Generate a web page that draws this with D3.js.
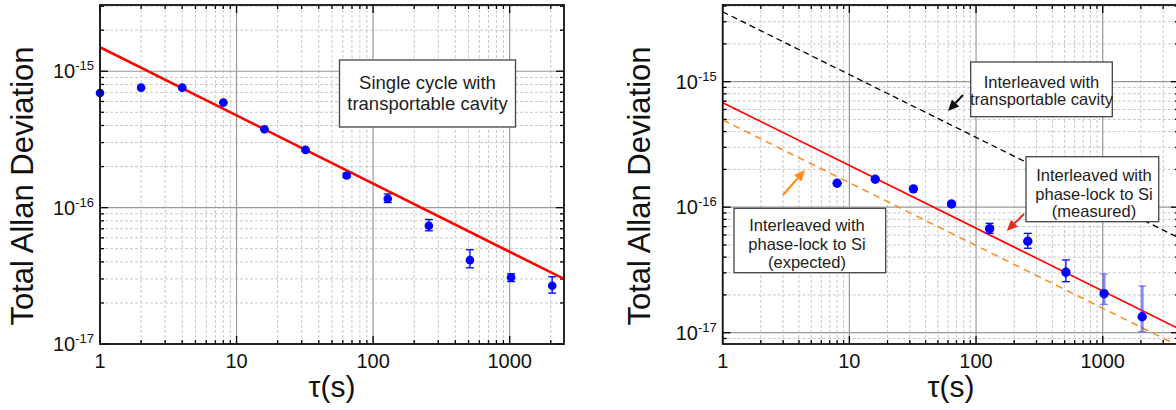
<!DOCTYPE html>
<html><head><meta charset="utf-8">
<script src="https://cdn.jsdelivr.net/npm/d3@7"></script>
<style>
html,body{margin:0;padding:0;background:#fff;overflow:hidden}
text{font-family:"Liberation Sans",Arial,sans-serif}
</style></head>
<body>
<script>
// ---------- data ----------
const tauLeft = [1, 2, 4, 8, 16, 32, 64, 128, 256, 512, 1024, 2048];
const adevLeft = [6.93e-16, 7.58e-16, 7.58e-16, 5.89e-16, 3.76e-16, 2.65e-16, 1.72e-16, 1.16e-16, 7.36e-17, 4.12e-17, 3.08e-17, 2.67e-17];
const hiLeft  = [7.0e-16, 7.65e-16, 7.65e-16, 5.95e-16, 3.80e-16, 2.70e-16, 1.78e-16, 1.26e-16, 8.18e-17, 4.91e-17, 3.27e-17, 3.11e-17];
const loLeft  = [6.86e-16, 7.5e-16, 7.5e-16, 5.83e-16, 3.72e-16, 2.60e-16, 1.66e-16, 1.09e-16, 6.76e-17, 3.62e-17, 2.87e-17, 2.36e-17];
const fitTauLeft = [1, 2500];
const fitLeft = [1.5e-15, 3.0e-17];

const tauRight = [8, 16, 32, 64, 128, 256, 512, 1024, 2048];
const adevRight = [1.55e-16, 1.67e-16, 1.40e-16, 1.06e-16, 6.74e-17, 5.35e-17, 3.03e-17, 2.05e-17, 1.34e-17];
const hiRight  = [1.57e-16, 1.69e-16, 1.42e-16, 1.09e-16, 7.44e-17, 6.19e-17, 3.80e-17, 2.94e-17, 2.36e-17];
const loRight  = [1.53e-16, 1.65e-16, 1.38e-16, 1.03e-16, 6.19e-17, 4.71e-17, 2.55e-17, 1.68e-17, 1.02e-17];
const fitTauRight = [1, 4000];
const measuredRight = [6.8e-16, 1.075e-17];
const expectedRight = [4.95e-16, 7.83e-18];
const transportRight = [3.6e-15, 5.69e-17];

const xTickLabels = ["1", "10", "100", "1000"];
const xTickValues = [1, 10, 100, 1000];
const yTickValues = [1e-17, 1e-16, 1e-15];
const yTickExp = ["-17", "-16", "-15"];

const noteLeft = ["Single cycle with", "transportable cavity"];
const noteTransport = ["Interleaved with", "transportable cavity"];
const noteMeasured = ["Interleaved with", "phase-lock to Si", "(measured)"];
const noteExpected = ["Interleaved with", "phase-lock to Si", "(expected)"];

// ---------- drawing ----------
const svg = d3.select("body").append("svg").attr("width", 1176).attr("height", 410);
const defs = svg.append("defs");

function panel(cfg) {
  const x = d3.scaleLog().domain(cfg.xd).range([cfg.x0, cfg.x1]);
  const y = d3.scaleLog().domain(cfg.yd).range([cfg.y1, cfg.y0]);
  const g = svg.append("g");
  defs.append("clipPath").attr("id", cfg.id).append("rect")
    .attr("x", cfg.x0).attr("y", cfg.y0).attr("width", cfg.x1 - cfg.x0).attr("height", cfg.y1 - cfg.y0);

  const xt = x.ticks(40).filter(v => v >= cfg.xd[0] && v <= cfg.xd[1]);
  const yt = y.ticks(40).filter(v => v >= cfg.yd[0] && v <= cfg.yd[1]);
  const isMajor = v => Math.abs(Math.log10(v) - Math.round(Math.log10(v))) < 1e-6;

  const grid = g.append("g");
  grid.selectAll(".xm").data(xt.filter(v => !isMajor(v))).join("line")
    .attr("x1", d => x(d)).attr("x2", d => x(d)).attr("y1", cfg.y0).attr("y2", cfg.y1)
    .attr("stroke", "#c8c8c8").attr("stroke-width", 1).attr("stroke-dasharray", "3,2");
  grid.selectAll(".ym").data(yt.filter(v => !isMajor(v))).join("line")
    .attr("y1", d => y(d)).attr("y2", d => y(d)).attr("x1", cfg.x0).attr("x2", cfg.x1)
    .attr("stroke", "#c8c8c8").attr("stroke-width", 1).attr("stroke-dasharray", "3,2");
  grid.selectAll(".xM").data(xt.filter(isMajor)).join("line")
    .attr("x1", d => x(d)).attr("x2", d => x(d)).attr("y1", cfg.y0).attr("y2", cfg.y1)
    .attr("stroke", "#999").attr("stroke-width", 1.2);
  grid.selectAll(".yM").data(yt.filter(isMajor)).join("line")
    .attr("y1", d => y(d)).attr("y2", d => y(d)).attr("x1", cfg.x0).attr("x2", cfg.x1)
    .attr("stroke", "#999").attr("stroke-width", 1.2);

  const tk = g.append("g").attr("stroke", "#000").attr("stroke-width", 1.3);
  xt.forEach(v => {
    const L = isMajor(v) ? 8 : 4;
    tk.append("line").attr("x1", x(v)).attr("x2", x(v)).attr("y1", cfg.y1).attr("y2", cfg.y1 - L);
    tk.append("line").attr("x1", x(v)).attr("x2", x(v)).attr("y1", cfg.y0).attr("y2", cfg.y0 + L);
  });
  yt.forEach(v => {
    const L = isMajor(v) ? 8 : 4;
    tk.append("line").attr("y1", y(v)).attr("y2", y(v)).attr("x1", cfg.x0).attr("x2", cfg.x0 + L);
    tk.append("line").attr("y1", y(v)).attr("y2", y(v)).attr("x1", cfg.x1).attr("x2", cfg.x1 - L);
  });

  xTickValues.forEach((v, i) => {
    g.append("text").attr("x", x(v)).attr("y", cfg.y1 + 24).attr("text-anchor", "middle")
      .attr("font-size", 20).attr("fill", "#111").text(xTickLabels[i]);
  });
  yTickValues.forEach((v, i) => {
    const t = g.append("text").attr("x", cfg.x0 - 6).attr("y", y(v) + 7).attr("text-anchor", "end")
      .attr("font-size", 20).attr("fill", "#111");
    t.append("tspan").text("10");
    t.append("tspan").attr("font-size", 13).attr("dy", -8).text(yTickExp[i]);
  });

  g.append("text").attr("transform", `translate(${cfg.titleX},${186}) rotate(-90)`)
    .attr("text-anchor", "middle").attr("font-size", 31).attr("fill", "#111").text("Total Allan Deviation");
  g.append("text").attr("x", cfg.xLabelX).attr("y", 397).attr("text-anchor", "middle")
    .attr("font-size", 30).attr("fill", "#111").text("τ(s)");

  const plot = g.append("g").attr("clip-path", `url(#${cfg.id})`);
  return {x, y, g, plot};
}

function fitLine(p, taus, vals, color, width, dash) {
  const line = d3.line().x(d => p.x(d[0])).y(d => p.y(d[1]));
  p.plot.append("path").datum(taus.map((t, i) => [t, vals[i]])).attr("d", line)
    .attr("fill", "none").attr("stroke", color).attr("stroke-width", width)
    .attr("stroke-dasharray", dash || null);
}

function points(p, taus, vals, lo, hi, r, errColorFn) {
  const gg = p.g.append("g");
  taus.forEach((t, i) => {
    const cx = p.x(t), c = errColorFn(i);
    gg.append("line").attr("x1", cx).attr("x2", cx).attr("y1", p.y(lo[i])).attr("y2", p.y(hi[i]))
      .attr("stroke", c.col).attr("stroke-width", c.w);
    [lo[i], hi[i]].forEach(v => gg.append("line").attr("x1", cx - 4).attr("x2", cx + 4)
      .attr("y1", p.y(v)).attr("y2", p.y(v)).attr("stroke", c.col).attr("stroke-width", 1.3));
  });
  gg.selectAll("circle").data(taus).join("circle")
    .attr("cx", d => p.x(d)).attr("cy", (d, i) => p.y(vals[i])).attr("r", r).attr("fill", "#0000ff");
}

function frame(cfg) {
  svg.append("rect").attr("x", cfg.x0).attr("y", cfg.y0).attr("width", cfg.x1 - cfg.x0).attr("height", cfg.y1 - cfg.y0)
    .attr("fill", "none").attr("stroke", "#111").attr("stroke-width", 1.8);
}

function note(lines, x0, y0, w, h, lineYs, cx, fs) {
  const g = svg.append("g");
  g.append("rect").attr("x", x0).attr("y", y0).attr("width", w).attr("height", h)
    .attr("fill", "#fff").attr("stroke", "#444").attr("stroke-width", 1.3);
  lines.forEach((s, i) => g.append("text").attr("x", cx).attr("y", lineYs[i]).attr("text-anchor", "middle")
    .attr("font-size", fs).attr("fill", "#222").text(s));
}

function arrow(x1, y1, x2, y2, color) {
  const a = Math.atan2(y2 - y1, x2 - x1), L = 11, W = 5;
  const bx = x2 - L * Math.cos(a), by = y2 - L * Math.sin(a);
  svg.append("line").attr("x1", x1).attr("y1", y1).attr("x2", bx).attr("y2", by)
    .attr("stroke", color).attr("stroke-width", 2);
  svg.append("path").attr("d", `M${x2},${y2} L${bx - W * Math.sin(a)},${by + W * Math.cos(a)} L${bx + W * Math.sin(a)},${by - W * Math.cos(a)} Z`)
    .attr("fill", color);
}

// Left panel
const cfgL = {id: "clipL", x0: 100, x1: 564, y0: 5, y1: 344, xd: [1, 2500], yd: [1e-17, 3.06e-15], titleX: 33, xLabelX: 332};
const pL = panel(cfgL);
fitLine(pL, fitTauLeft, fitLeft, "#ff0000", 2.6);
points(pL, tauLeft, adevLeft, loLeft, hiLeft, 4.3, () => ({col: "#0000ff", w: 1.3}));
frame(cfgL);
note(noteLeft, 339.5, 60, 176, 67, [89, 110], 427.5, 18.5);

// Right panel
const cfgR = {id: "clipR", x0: 722.7, x1: 1179, y0: 5, y1: 344, xd: [1, 4000], yd: [8.13e-18, 4.08e-15], titleX: 650, xLabelX: 951};
const pR = panel(cfgR);
fitLine(pR, fitTauRight, transportRight, "#000", 1.3, "6,4");
fitLine(pR, fitTauRight, expectedRight, "#ff8c1a", 1.5, "7,5");
fitLine(pR, fitTauRight, measuredRight, "#ff0000", 1.6);
points(pR, tauRight, adevRight, loRight, hiRight, 4.7,
  i => i >= 7 ? {col: "rgba(60,60,255,0.6)", w: 3} : {col: "#0000ff", w: 1.3});
frame(cfgR);
note(noteTransport, 970.7, 62, 141.6, 54.7, [87.5, 105], 1041.5, 16.5);
note(noteMeasured, 1026, 156.7, 132.7, 65, [181, 199.5, 217], 1094, 16.5);
note(noteExpected, 734, 208.3, 151.7, 64.4, [231, 250, 267.5], 807, 16.5);
arrow(963, 95, 948, 111, "#111");
arrow(1024, 214, 1006.7, 231, "#e0301e");
arrow(783, 195, 805, 170, "#ff8c1a");
</script>
</body></html>
